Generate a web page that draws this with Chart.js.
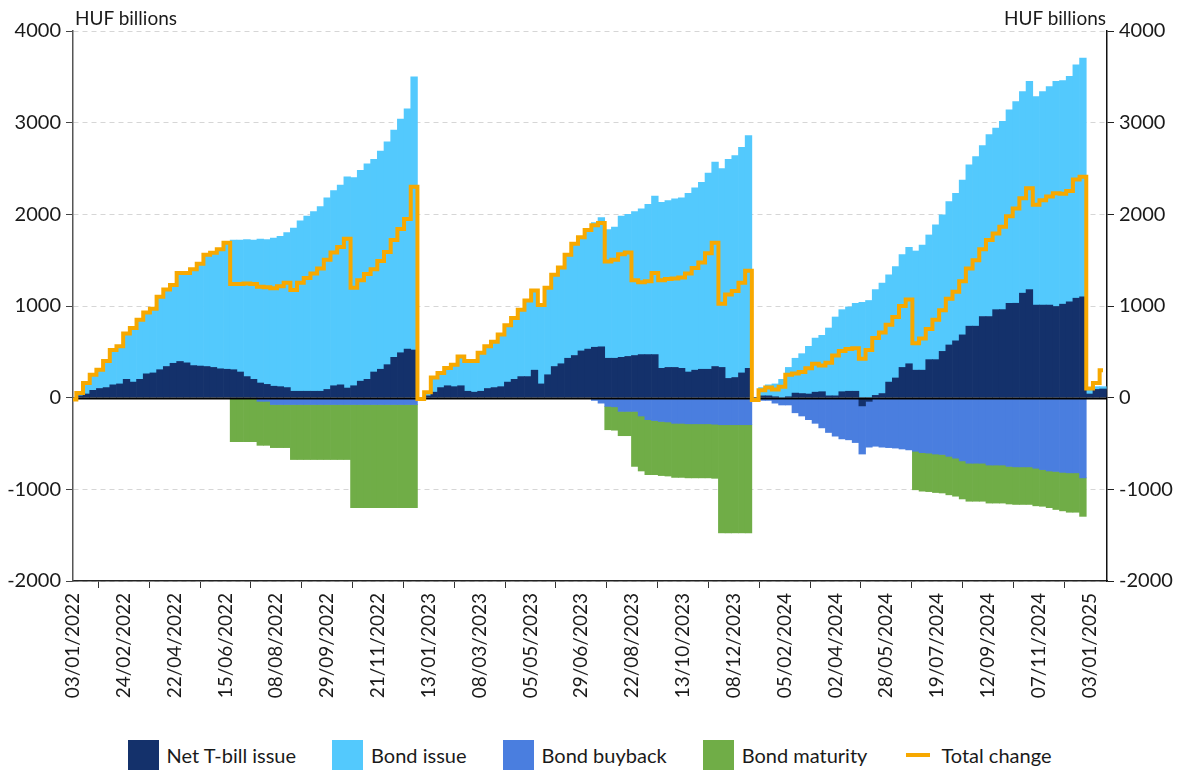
<!DOCTYPE html>
<html lang="en">
<head>
<meta charset="utf-8">
<title>Government securities issuance, HUF billions</title>
<script src="https://cdn.jsdelivr.net/npm/chart.js@4.4.1/dist/chart.umd.min.js"></script>
<style>
  html, body { margin: 0; padding: 0; background: #fff; }
  body {
    width: 1179px; height: 771px; position: relative; overflow: hidden;
    font-family: Lato, 'Open Sans', sans-serif; color: #1a1a1a;
  }
  .wrap { position: absolute; left: 0; top: 0; width: 1179px; height: 730px; }
  .unit { position: absolute; top: 6px; font-size: 19px; }
  .unit.left { left: 75px; }
  .unit.right { right: 73px; }
  #legend {
    position: absolute; top: 740px; left: 0; width: 1179px;
    display: flex; justify-content: center; gap: 36px; font-size: 20px;
  }
  #legend .item { display: flex; align-items: center; gap: 8px; height: 30px; }
  #legend .box { width: 31px; height: 30px; }
  #legend .line { width: 24px; height: 4px; margin: 0 3px; }
</style>
</head>
<body>
<div class="wrap"><canvas id="issuanceChart"></canvas></div>
<div class="unit left">HUF billions</div>
<div class="unit right">HUF billions</div>
<div id="legend"></div>

<script>
// one sample every 5 business days, starting 03/01/2022
const SAMPLE_STEP = 5;
const TICK_STEP = 38;
const X_MAX = 773;

const tickLabels = [
  '03/01/2022', '24/02/2022', '22/04/2022', '15/06/2022', '08/08/2022', '29/09/2022',
  '21/11/2022', '13/01/2023', '08/03/2023', '05/05/2023', '29/06/2023', '22/08/2023',
  '13/10/2023', '08/12/2023', '05/02/2024', '02/04/2024', '28/05/2024', '19/07/2024',
  '12/09/2024', '07/11/2024', '03/01/2025'
];

const tbillIssue = [
  -20, 20, 40, 80, 100, 110, 140, 150, 200, 170,
  200, 260, 270, 305, 340, 375, 395, 380, 350, 345,
  340, 330, 315, 310, 305, 280, 230, 200, 160, 145,
  125, 120, 110, 70, 70, 70, 70, 70, 90, 130,
  140, 105, 130, 180, 200, 280, 310, 360, 440, 490,
  530, 520, -15, 20, 60, 110, 130, 120, 130, 70,
  60, 70, 100, 110, 120, 170, 200, 230, 230, 300,
  150, 250, 340, 370, 430, 460, 510, 530, 550, 555,
  430, 430, 440, 450, 460, 470, 470, 470, 320, 330,
  330, 320, 280, 300, 310, 310, 340, 330, 210, 220,
  270, 320, -10, 20, 20, 10, 0, 10, 50, 45,
  40, 60, 65, 20, 20, 65, 70, 70, -90, -40,
  25, 45, 170, 215, 330, 370, 300, 300, 415, 415,
  505, 575, 620, 685, 780, 780, 885, 885, 960, 960,
  1030, 1030, 1140, 1180, 1010, 1010, 1010, 995, 1020, 1045,
  1085, 1100, 40, 90, 95
];

const bondIssue = [
  0, 30, 120, 170, 205, 290, 380, 410, 500, 590,
  650, 670, 700, 795, 840, 855, 965, 980, 1050, 1115,
  1220, 1250, 1305, 1380, 1415, 1440, 1495, 1520, 1570, 1580,
  1615, 1640, 1690, 1780, 1860, 1910, 1960, 2015, 2090, 2130,
  2180, 2305, 2270, 2300, 2350, 2320, 2380, 2430, 2480, 2550,
  2620, 2980, 0, 40, 160, 160, 195, 240, 320, 330,
  340, 420, 460, 500, 570, 620, 670, 730, 830, 870,
  860, 950, 1000, 1050, 1130, 1220, 1240, 1300, 1360, 1410,
  1405, 1430, 1540, 1550, 1570, 1590, 1640, 1730, 1810, 1820,
  1840, 1860, 1950, 1990, 2040, 2140, 2230, 2170, 2390, 2420,
  2460, 2540, 0, 90, 120, 140, 200, 320, 380, 435,
  520, 590, 615, 740, 860, 895, 920, 960, 1040, 1060,
  1155, 1205, 1170, 1215, 1230, 1270, 1300, 1365, 1360, 1470,
  1490, 1565, 1610, 1690, 1760, 1850, 1865, 1985, 1980, 2055,
  2110, 2200, 2200, 2270, 2275, 2330, 2385, 2455, 2440, 2460,
  2545, 2605, 60, 30, 25
];

const bondBuyback = [
  0, 0, 0, 0, 0, 0, 0, 0, 0, 0,
  0, 0, 0, 0, 0, 0, 0, 0, 0, 0,
  0, 0, 0, 0, 0, 0, 0, 0, -40, -40,
  -75, -75, -75, -75, -75, -75, -75, -75, -75, -75,
  -75, -75, -75, -75, -75, -75, -75, -75, -75, -75,
  -75, -75, 0, 0, 0, 0, 0, 0, 0, 0,
  0, 0, 0, 0, 0, 0, 0, 0, 0, 0,
  0, 0, 0, 0, 0, 0, 0, 0, -30, -60,
  -95, -100, -150, -150, -150, -200, -240, -250, -260, -265,
  -280, -280, -285, -285, -285, -285, -290, -295, -295, -295,
  -295, -295, -15, -30, -30, -60, -80, -80, -165, -200,
  -240, -280, -330, -380, -420, -450, -460, -490, -525, -500,
  -530, -540, -545, -550, -560, -570, -585, -600, -605, -615,
  -620, -640, -660, -690, -715, -715, -715, -735, -735, -735,
  -750, -755, -755, -755, -770, -785, -800, -805, -815, -820,
  -820, -875, 0, 0, 0
];

const bondMaturity = [
  0, 0, 0, 0, 0, 0, 0, 0, 0, 0,
  0, 0, 0, 0, 0, 0, 0, 0, 0, 0,
  0, 0, 0, 0, -480, -480, -480, -480, -480, -480,
  -470, -470, -470, -600, -600, -600, -600, -600, -600, -600,
  -600, -600, -1125, -1125, -1125, -1125, -1125, -1125, -1125, -1125,
  -1125, -1125, 0, 0, 0, 0, 0, 0, 0, 0,
  0, 0, 0, 0, 0, 0, 0, 0, 0, 0,
  0, 0, 0, 0, 0, 0, 0, 0, 0, 0,
  -255, -255, -265, -265, -600, -600, -600, -590, -590, -590,
  -590, -590, -590, -590, -590, -590, -590, -1180, -1180, -1180,
  -1180, -1180, 0, 0, 0, 0, 0, 0, 0, 0,
  0, 0, 0, 0, 0, 0, 0, 0, 0, 0,
  0, 0, 0, 0, 0, 0, -420, -420, -420, -420,
  -420, -420, -415, -415, -415, -415, -415, -415, -415, -415,
  -410, -410, -410, -410, -410, -400, -400, -415, -420, -430,
  -430, -420, 0, 0, 0
];

const totalChange = [
  -20, 50, 160, 250, 305, 400, 520, 560, 700, 760,
  850, 930, 970, 1100, 1180, 1230, 1360, 1360, 1400, 1460,
  1560, 1580, 1620, 1690, 1240, 1240, 1245, 1240, 1210, 1205,
  1195, 1215, 1255, 1175, 1255, 1305, 1355, 1410, 1505, 1585,
  1645, 1735, 1200, 1280, 1350, 1400, 1490, 1590, 1720, 1840,
  1950, 2300, -15, 60, 220, 270, 325, 360, 450, 400,
  400, 490, 560, 610, 690, 790, 870, 960, 1060, 1170,
  1010, 1200, 1340, 1420, 1560, 1680, 1750, 1830, 1880, 1905,
  1485, 1505, 1565, 1585, 1280, 1260, 1270, 1360, 1280, 1295,
  1300, 1310, 1355, 1415, 1475, 1575, 1690, 1025, 1125, 1165,
  1255, 1385, -25, 80, 110, 90, 120, 250, 265, 280,
  320, 370, 350, 380, 460, 510, 530, 540, 425, 520,
  650, 710, 795, 880, 1000, 1070, 595, 645, 750, 850,
  955, 1080, 1155, 1270, 1410, 1500, 1620, 1720, 1790, 1865,
  1980, 2065, 2175, 2285, 2105, 2155, 2195, 2230, 2225, 2255,
  2380, 2410, 100, 160, 300
];

const colors = {
  tbill: '#14316b',
  bond: '#53c9fd',
  buyback: '#4a7edf',
  maturity: '#70ad47',
  total: '#f7a800'
};

const toPoints = (values, skipZero) =>
  values.map((v, i) => ({ x: i * SAMPLE_STEP, y: skipZero && v === 0 ? null : v }));

const areaSet = (label, values, color) => ({
  type: 'bar',
  label,
  data: toPoints(values, true),
  backgroundColor: color,
  borderWidth: 0,
  barPercentage: 1,
  categoryPercentage: 1,
  stack: 'flows',
  order: 1,
  clip: 0
});

// zero line sits on top of the filled areas but under the total line
const zeroLine = {
  id: 'zeroLine',
  afterDatasetDraw(chart, args) {
    if (args.index !== 0) return;
    const { ctx, chartArea, scales } = chart;
    const y = Math.round(scales.y.getPixelForValue(0)) + 0.5;
    ctx.save();
    ctx.strokeStyle = '#000';
    ctx.lineWidth = 2;
    ctx.beginPath();
    ctx.moveTo(chartArea.left, y);
    ctx.lineTo(chartArea.right, y);
    ctx.stroke();
    ctx.restore();
  }
};

Chart.defaults.font.family = "Lato, 'Open Sans', sans-serif";
Chart.defaults.font.size = 19;
Chart.defaults.color = '#1a1a1a';
Chart.defaults.animation = false;

const plainNumber = (v) => String(v);

const chart = new Chart(document.getElementById('issuanceChart'), {
  type: 'bar',
  data: {
    datasets: [
      areaSet('Net T-bill issue', tbillIssue, colors.tbill),
      areaSet('Bond issue', bondIssue, colors.bond),
      areaSet('Bond buyback', bondBuyback, colors.buyback),
      areaSet('Bond maturity', bondMaturity, colors.maturity),
      {
        type: 'line',
        label: 'Total change',
        data: toPoints(totalChange, false),
        borderColor: colors.total,
        backgroundColor: colors.total,
        borderWidth: 4,
        stepped: 'middle',
        pointRadius: 0,
        fill: false,
        stack: 'total',
        order: 0
      }
    ]
  },
  options: {
    responsive: true,
    maintainAspectRatio: false,
    layout: { padding: { top: 31, left: 0, right: 0, bottom: 0 } },
    plugins: {
      legend: { display: false },
      tooltip: { enabled: false }
    },
    scales: {
      x: {
        type: 'linear',
        min: 0,
        max: X_MAX,
        offset: false,
        stacked: true,
        afterBuildTicks: (scale) => {
          scale.ticks = tickLabels.map((_, k) => ({ value: k * TICK_STEP }));
        },
        afterFit: (scale) => { scale.height = 149; },
        ticks: {
          autoSkip: false,
          minRotation: 90,
          maxRotation: 90,
          padding: 5,
          callback: (v) => tickLabels[Math.round(v / TICK_STEP)]
        },
        grid: { drawOnChartArea: false, tickLength: 7, tickColor: '#333' },
        border: { color: '#222', width: 1.5 }
      },
      y: {
        position: 'left',
        min: -2000,
        max: 4000,
        stacked: true,
        afterFit: (scale) => { scale.width = 73; },
        ticks: { stepSize: 1000, padding: 5, font: { size: 20 }, callback: plainNumber },
        grid: {
          color: (c) => (c.tick && c.tick.value === 0 ? 'rgba(0,0,0,0)' : '#d6d6d6'),
          tickColor: '#444',
          tickLength: 7,
          tickBorderDash: []
        },
        border: { color: '#555', width: 1.5, dash: [5, 4] }
      },
      y2: {
        position: 'right',
        min: -2000,
        max: 4000,
        afterFit: (scale) => { scale.width = 72; },
        ticks: { stepSize: 1000, padding: 5, font: { size: 20 }, callback: plainNumber },
        grid: { drawOnChartArea: false, tickColor: '#222', tickLength: 7 },
        border: { color: '#111', width: 1.5 }
      }
    }
  },
  plugins: [zeroLine]
});

// legend built from the chart's own datasets
const legend = document.getElementById('legend');
chart.data.datasets.forEach(ds => {
  const item = document.createElement('span');
  item.className = 'item';
  const mark = document.createElement('span');
  mark.className = ds.type === 'line' ? 'line' : 'box';
  mark.style.background = ds.type === 'line' ? ds.borderColor : ds.backgroundColor;
  item.appendChild(mark);
  item.appendChild(document.createTextNode(ds.label));
  legend.appendChild(item);
});
</script>
</body>
</html>
